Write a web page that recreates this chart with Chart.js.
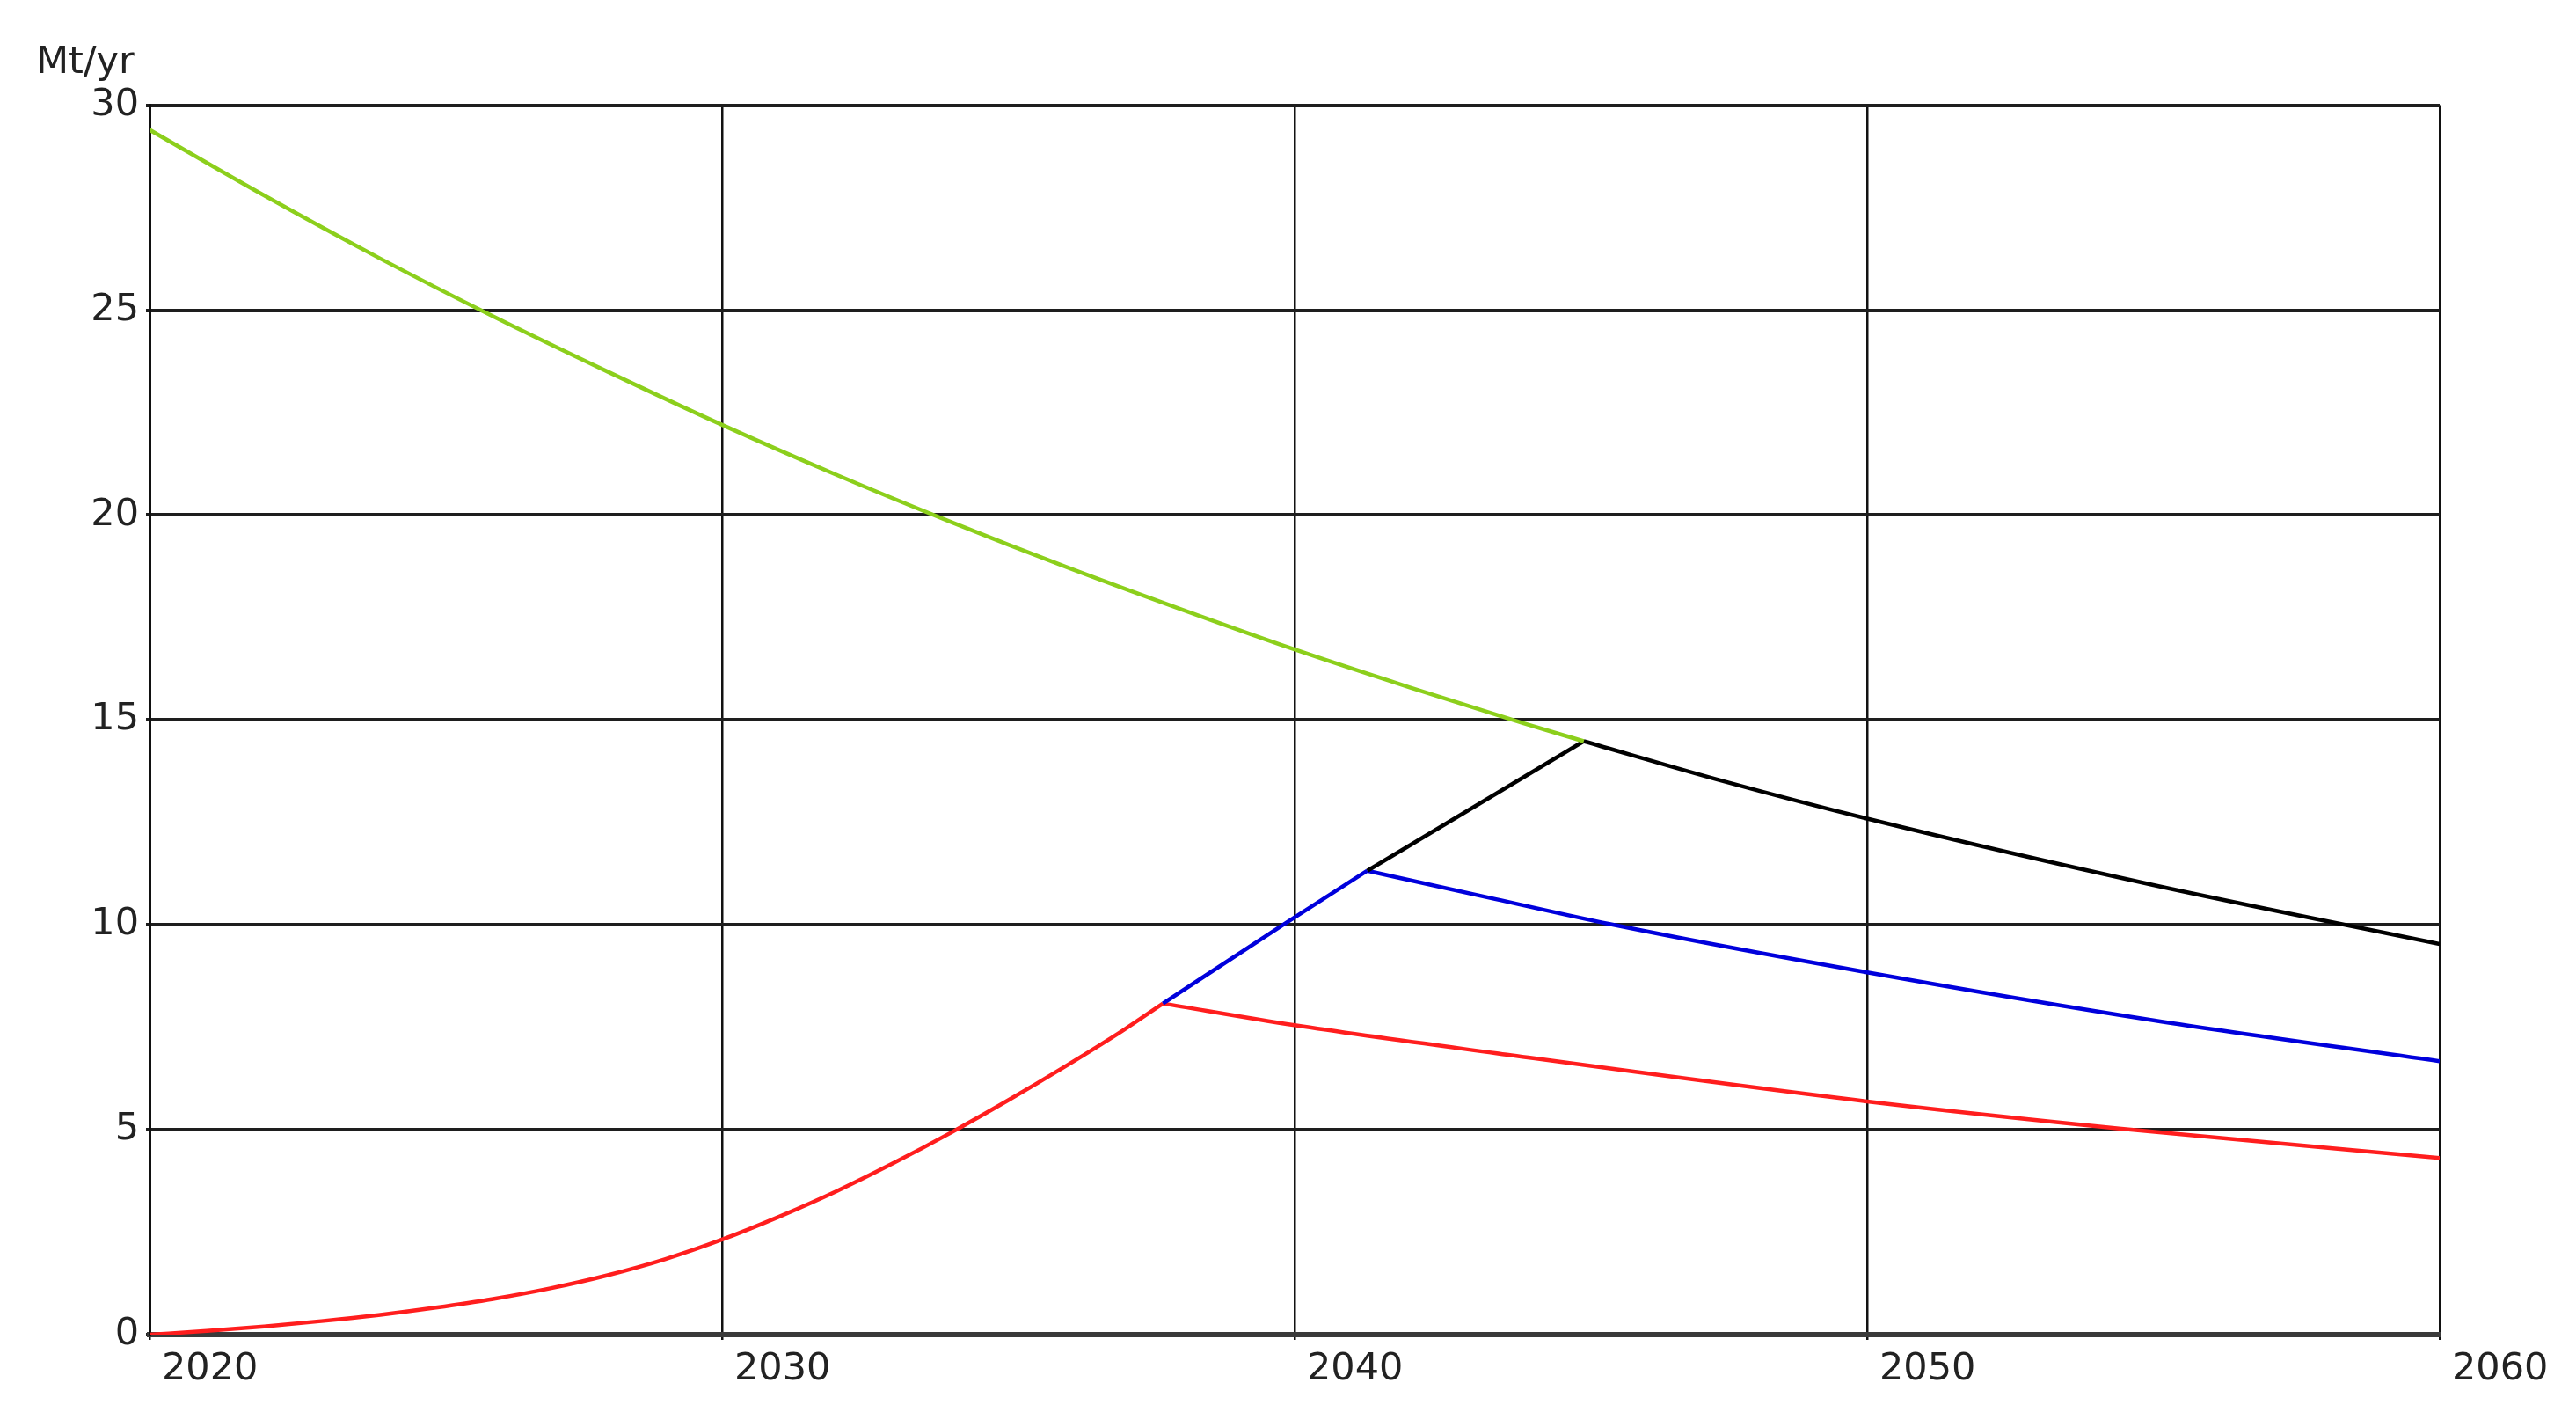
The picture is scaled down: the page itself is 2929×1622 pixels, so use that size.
<!DOCTYPE HTML>
<html lang="en">
<head>
<meta charset="UTF-8">
<title>Mt/yr</title>
<script src="https://cdn.jsdelivr.net/npm/chart.js@4.4.1/dist/chart.umd.min.js"></script>
<style>
    html, body { margin: 0; padding: 0; background: #fff; }
    #wrap { width: 2929px; height: 1622px; }
</style>
</head>
<body>
<div id="wrap"><canvas id="mychart"></canvas></div>

<script>
// values (year, Mt/yr)
// each scenario: a rising part up to its peak, then a falling part
var greenYears  = [2020, 2022, 2024, 2026, 2028, 2030, 2032, 2034, 2036, 2038, 2040, 2042, 2044, 2045.05];
var greenValues = [29.4, 27.8, 26.28, 24.85, 23.5, 22.2, 20.98, 19.83, 18.74, 17.71, 16.72, 15.8, 14.92, 14.48];

var redRiseYears  = [2020, 2021, 2022, 2023, 2024, 2025, 2026, 2027, 2028, 2029, 2030, 2031, 2032, 2033, 2034, 2035, 2036, 2037, 2037.7];
var redRiseValues = [0, 0.09, 0.2, 0.33, 0.48, 0.66, 0.87, 1.13, 1.45, 1.84, 2.32, 2.88, 3.5, 4.19, 4.93, 5.72, 6.55, 7.42, 8.08];
var redFallYears  = [2037.7, 2040, 2043.5, 2050, 2054.4, 2060];
var redFallValues = [8.08, 7.55, 6.87, 5.69, 5.03, 4.31];

var blueRiseYears  = [2037.7, 2039.8, 2041.27];
var blueRiseValues = [8.08, 10.0, 11.32];
var blueFallYears  = [2041.27, 2043.5, 2045.5, 2050, 2055, 2060];
var blueFallValues = [11.32, 10.63, 10.02, 8.84, 7.67, 6.67];

var blackRiseYears  = [2041.27, 2045.05];
var blackRiseValues = [11.32, 14.48];
var blackFallYears  = [2045.05, 2047.5, 2050, 2055, 2060];
var blackFallValues = [14.48, 13.5, 12.59, 10.97, 9.53];

var xTicks = [2020, 2030, 2040, 2050, 2060];
var yTicks = [0, 5, 10, 15, 20, 25, 30];

var lineColors = {
    green: '#8ccf1c',
    red: '#ff1e1e',
    blue: '#0000dc',
    black: '#000000'
};

function toPoints(xs, ys) {
    return xs.map(function(x, i) { return {x: x, y: ys[i]}; });
}

function makeSet(label, xs, ys, color) {
    return {
        label: label,
        data: toPoints(xs, ys),
        borderColor: color,
        backgroundColor: color,
        borderWidth: 4.5,
        pointRadius: 0,
        fill: false,
        cubicInterpolationMode: 'monotone'
    };
}

window.addEventListener('load', function() {
    var ctx = document.getElementById('mychart');
    var labelFont = { family: "'DejaVu Sans', Verdana, sans-serif", size: 43 };

    new Chart(ctx, {
        type: 'line',
        data: {
            datasets: [
                makeSet('green', greenYears, greenValues, lineColors.green),
                makeSet('black', blackRiseYears, blackRiseValues, lineColors.black),
                makeSet('black', blackFallYears, blackFallValues, lineColors.black),
                makeSet('blue', blueRiseYears, blueRiseValues, lineColors.blue),
                makeSet('blue', blueFallYears, blueFallValues, lineColors.blue),
                makeSet('red', redRiseYears, redRiseValues, lineColors.red),
                makeSet('red', redFallYears, redFallValues, lineColors.red)
            ]
        },
        options: {
            responsive: true,
            maintainAspectRatio: false,
            animation: false,
            layout: {
                padding: { left: 41, right: 155, top: 46, bottom: 0 }
            },
            plugins: {
                legend: { display: false },
                tooltip: { enabled: false },
                title: {
                    display: true,
                    text: 'Mt/yr',
                    align: 'start',
                    color: '#222',
                    font: { family: labelFont.family, size: 43, weight: 'normal' },
                    padding: { top: 0, bottom: 22 }
                }
            },
            scales: {
                x: {
                    type: 'linear',
                    min: 2020,
                    max: 2060,
                    afterBuildTicks: function(scale) {
                        scale.ticks = xTicks.map(function(v) { return {value: v}; });
                    },
                    afterFit: function(scale) { scale.height = 105; },
                    ticks: {
                        color: '#222',
                        font: labelFont,
                        align: 'start',
                        labelOffset: 14,
                        padding: 8,
                        autoSkip: false,
                        maxRotation: 0,
                        callback: function(v) { return String(v); }
                    },
                    grid: {
                        color: '#111',
                        lineWidth: 2.5,
                        tickLength: 6
                    },
                    border: { color: '#3a3a3a', width: 6 }
                },
                y: {
                    type: 'linear',
                    min: 0,
                    max: 30,
                    afterBuildTicks: function(scale) {
                        scale.ticks = yTicks.map(function(v) { return {value: v}; });
                    },
                    afterFit: function(scale) { scale.width = 129; },
                    ticks: {
                        color: '#222',
                        font: labelFont,
                        padding: 8
                    },
                    grid: {
                        color: '#1e1e1e',
                        lineWidth: 4,
                        tickLength: 4
                    },
                    border: { color: '#111', width: 3 }
                }
            }
        }
    });
});
</script>
</body>
</html>
